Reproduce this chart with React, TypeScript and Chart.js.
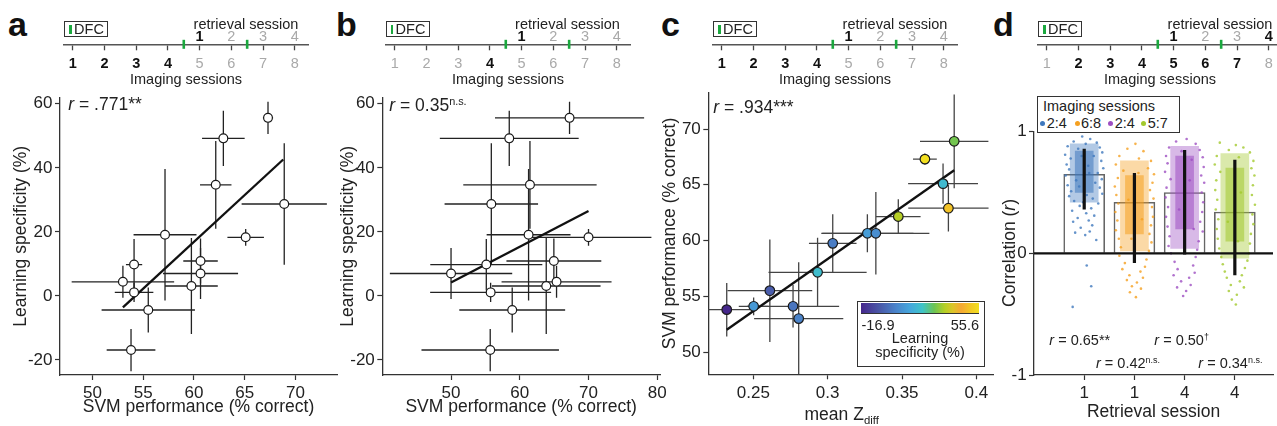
import React, { useEffect, useRef } from 'react';
import { Chart, registerables } from 'chart.js';

Chart.register(...registerables);

const FONT = '"Liberation Sans", Arial, Helvetica, sans-serif';
Chart.defaults.font.family = FONT;
Chart.defaults.color = '#222';

// ---------------- data shared by panels a, b, c (one value per animal) ----------------
const learningSpec = [55.6, 49.2, 34.7, 28.7, 18.3, 19.1, 10.9, 7.0, 3.1, 9.8, 1.1, 4.4, -4.4, -16.9];
const learningSpecErr = [5, 8.6, 13.7, 19, 2.6, 20.5, 7, 8, 15, 8, 3, 5, 7, 6.6];
const svmPerf = [67.3, 62.9, 62.15, 68.9, 65.1, 57.15, 60.65, 60.65, 59.75, 54.1, 54.1, 53.0, 55.5, 53.8];
const svmPerfErr = [0.5, 2.1, 1.55, 4.2, 1.8, 3.1, 1.7, 3.7, 2.6, 0.8, 1.9, 5.05, 4.6, 2.4];
const svmPerfB = [67.24, 58.47, 61.48, 55.86, 70.0, 61.28, 64.96, 50.0, 63.85, 55.13, 55.76, 65.35, 58.9, 55.7];
const svmPerfBErr = [10.85, 10.1, 9.7, 6.8, 9.15, 6.1, 6.9, 8.9, 7.9, 8.15, 8.8, 8, 7.7, 10];
const zDiff = [0.3654, 0.3812, 0.3475, 0.3851, 0.3776, 0.2932, 0.3267, 0.3324, 0.3034, 0.2502, 0.2767, 0.2805, 0.2611, 0.2321];
const zDiffErr = [0.008, 0.027, 0.015, 0.023, 0.0235, 0.033, 0.031, 0.036, 0.016, 0.010, 0.031, 0.030, 0.0285, 0.016];

// regression lines (end points)
const fitAX = [53.0, 68.8];
const fitAY = [-3.6, 42.6];
const fitBX = [50.0, 70.0];
const fitBY = [4.2, 26.5];
const fitCX = [0.2321, 0.3851];
const fitCY = [52.0, 66.3];

// tick values
const ticksLS = [-20, 0, 20, 40, 60];
const ticksSvmA = [50, 55, 60, 65, 70];
const ticksSvmB = [50, 60, 70, 80];
const ticksZ = [0.25, 0.3, 0.35, 0.4];
const ticksSvmC = [50, 55, 60, 65, 70];
const ticksCorr = [-1, 0, 1];

// colour bar range
const cbarMin = -16.9;
const cbarMax = 55.6;

// timelines
const imagingSessions = [1, 2, 3, 4, 5, 6, 7, 8];
const retrievalPos = [5, 6, 7, 8];
const retrievalLabels = ['1', '2', '3', '4'];
const dfcMarks = [4.5, 6.5];
const boldImgA = [1, 2, 3, 4];
const boldImgB = [4];
const boldImgC = [1, 2, 3, 4];
const boldImgD = [2, 3, 4, 5, 6, 7];
const boldRetA = [5];
const boldRetB = [5];
const boldRetC = [5];
const boldRetD = [5, 8];

// panel d
const retrievalCats = ['1', '1', '4', '4'];
const groupLabels = ['2:4', '6:8', '2:4', '5:7'];
const corrMean = [0.65, 0.42, 0.5, 0.34];
const ciLow = [0.36, -0.08, -0.01, -0.18];
const ciHigh = [0.86, 0.66, 0.85, 0.77];
// extent of the scattered cloud (outer) and of its densest part (inner)
const cloudLow = [0.42, 0.02, 0.04, -0.04];
const cloudHigh = [0.9, 0.76, 0.88, 0.82];
const denseLow = [0.5, 0.16, 0.2, 0.1];
const denseHigh = [0.84, 0.64, 0.8, 0.7];
const dots1 = [
  [-0.04, 0.96], [0.12, 0.94], [-0.21, 0.92], [0.25, 0.91], [0.03, 0.9], [-0.33, 0.88], [0.31, 0.87], [-0.12, 0.86],
  [0.36, 0.83], [-0.38, 0.81], [0.19, 0.8], [-0.27, 0.78], [0.34, 0.76], [-0.35, 0.73], [0.08, 0.72], [0.38, 0.7],
  [-0.3, 0.69], [0.27, 0.66], [-0.37, 0.64], [0.35, 0.61], [-0.16, 0.6], [0.22, 0.58], [-0.33, 0.56], [0.31, 0.54],
  [-0.26, 0.51], [0.36, 0.49], [-0.3, 0.47], [0.17, 0.45], [-0.2, 0.43], [0.28, 0.41], [-0.09, 0.39], [0.14, 0.37],
  [-0.24, 0.35], [0.04, 0.33], [0.2, 0.31], [-0.13, 0.29], [0.09, 0.27], [-0.22, 0.26], [0.16, 0.23], [-0.07, 0.21],
  [0.11, 0.18], [-0.18, 0.17], [0.02, 0.15], [0.24, 0.11], [0.05, -0.1], [0.14, -0.27], [-0.23, -0.44],
  [-0.05, 0.8], [0.1, 0.66], [-0.1, 0.55], [0.05, 0.48], [-0.02, 0.42],
];
const dots2 = [
  [0.02, 0.9], [-0.14, 0.86], [0.18, 0.84], [-0.3, 0.8], [0.09, 0.78], [0.33, 0.76], [-0.37, 0.73], [0.27, 0.7],
  [-0.22, 0.68], [0.39, 0.65], [-0.33, 0.62], [0.36, 0.58], [-0.39, 0.55], [0.31, 0.52], [-0.36, 0.48], [0.38, 0.45],
  [-0.32, 0.41], [0.35, 0.38], [-0.38, 0.34], [0.37, 0.3], [-0.34, 0.27], [0.33, 0.23], [-0.37, 0.19], [0.3, 0.16],
  [-0.31, 0.12], [0.34, 0.09], [-0.27, 0.05], [0.29, 0.02], [-0.3, -0.02], [0.24, -0.05], [-0.19, -0.08], [0.21, -0.11],
  [-0.24, -0.13], [0.12, -0.15], [-0.1, -0.18], [0.17, -0.2], [-0.15, -0.22], [0.05, -0.24], [-0.05, -0.27], [0.13, -0.29],
  [-0.09, -0.32], [0.03, -0.36], [0.08, 0.66], [-0.12, 0.44], [0.15, 0.28], [-0.06, 0.12],
];
const dots3 = [
  [0.04, 0.94], [-0.17, 0.92], [0.22, 0.9], [-0.31, 0.87], [0.3, 0.85], [-0.06, 0.84], [-0.37, 0.8], [0.36, 0.79],
  [0.14, 0.77], [-0.34, 0.74], [0.38, 0.71], [-0.39, 0.67], [0.33, 0.64], [-0.28, 0.61], [0.39, 0.58], [-0.36, 0.54],
  [0.34, 0.5], [-0.38, 0.46], [0.37, 0.42], [-0.33, 0.38], [0.35, 0.34], [-0.37, 0.3], [0.31, 0.26], [-0.34, 0.22],
  [0.36, 0.18], [-0.3, 0.14], [0.28, 0.1], [-0.32, 0.06], [0.25, 0.03], [-0.27, 0.0], [0.22, -0.03], [-0.2, -0.07],
  [0.17, -0.1], [-0.14, -0.13], [0.2, -0.16], [-0.22, -0.18], [0.09, -0.2], [-0.07, -0.23], [0.12, -0.26], [-0.15, -0.28],
  [0.03, -0.31], [-0.03, -0.35], [0.1, 0.6], [-0.11, 0.36], [0.18, 0.2],
];
const dots4 = [
  [-0.3, 0.91], [0.02, 0.89], [0.17, 0.87], [-0.12, 0.85], [0.3, 0.83], [-0.36, 0.8], [0.08, 0.79], [0.37, 0.76],
  [-0.4, 0.73], [0.33, 0.7], [-0.29, 0.67], [0.39, 0.64], [-0.37, 0.6], [0.36, 0.56], [-0.39, 0.52], [0.34, 0.48],
  [-0.35, 0.44], [0.4, 0.4], [-0.38, 0.36], [0.35, 0.32], [-0.33, 0.28], [0.37, 0.24], [-0.36, 0.2], [0.32, 0.16],
  [-0.34, 0.12], [0.3, 0.08], [-0.31, 0.04], [0.28, 0.0], [-0.27, -0.03], [0.25, -0.06], [-0.24, -0.09], [0.2, -0.12],
  [-0.2, -0.15], [0.14, -0.18], [-0.16, -0.2], [0.1, -0.23], [-0.08, -0.26], [0.18, -0.28], [-0.12, -0.31], [0.04, -0.34],
  [-0.06, -0.38], [0.02, -0.42], [0.12, 0.5], [-0.14, 0.26], [0.06, 0.1],
];
const groupDots = [dots1, dots2, dots3, dots4];

// ---------------- styles ----------------
const groupColors = ['#3f78bd', '#f5a020', '#9e4fc2', '#a3c92d'];
const cmapStops: [number, string][] = [
  [0.0, '#46278c'], [0.15, '#4a56a6'], [0.3, '#4a85cb'], [0.42, '#45a8dc'], [0.52, '#3fc4c8'],
  [0.62, '#6cc454'], [0.71, '#b5cf26'], [0.78, '#dcc52a'], [0.85, '#f6a834'], [0.91, '#f3c227'], [1.0, '#f2df20'],
];

function hexRgb(h: string) {
  const n = parseInt(h.slice(1), 16);
  return [(n >> 16) & 255, (n >> 8) & 255, n & 255];
}
function alpha(h: string, a: number) {
  const [r, g, b] = hexRgb(h);
  return `rgba(${r},${g},${b},${a})`;
}
function cmap(t: number) {
  const u = Math.max(0, Math.min(1, t));
  for (let i = 1; i < cmapStops.length; i++) {
    const [t1, c1] = cmapStops[i];
    const [t0, c0] = cmapStops[i - 1];
    if (u <= t1) {
      const f = (u - t0) / (t1 - t0);
      const a = hexRgb(c0), b = hexRgb(c1);
      return `rgb(${Math.round(a[0] + (b[0] - a[0]) * f)},${Math.round(a[1] + (b[1] - a[1]) * f)},${Math.round(a[2] + (b[2] - a[2]) * f)})`;
    }
  }
  return cmapStops[cmapStops.length - 1][1];
}

// ---------------- helpers ----------------
function errPlugin(items: any[], color: string, width: number, layer: 'before' | 'after') {
  const draw = (chart: any) => {
    const { ctx, chartArea, scales } = chart;
    const x = scales.x, y = scales.y;
    ctx.save();
    ctx.beginPath();
    ctx.rect(chartArea.left, chartArea.top, chartArea.right - chartArea.left, chartArea.bottom - chartArea.top);
    ctx.clip();
    ctx.strokeStyle = color;
    ctx.lineWidth = width;
    for (const it of items) {
      if (it.xLo !== undefined) {
        ctx.beginPath();
        ctx.moveTo(x.getPixelForValue(it.xLo), y.getPixelForValue(it.y));
        ctx.lineTo(x.getPixelForValue(it.xHi), y.getPixelForValue(it.y));
        ctx.stroke();
      }
      if (it.yLo !== undefined) {
        ctx.beginPath();
        ctx.moveTo(x.getPixelForValue(it.x), y.getPixelForValue(it.yLo));
        ctx.lineTo(x.getPixelForValue(it.x), y.getPixelForValue(it.yHi));
        ctx.stroke();
      }
    }
    ctx.restore();
  };
  return {
    id: 'errBars',
    beforeDatasetsDraw(chart: any) { if (layer === 'before') draw(chart); },
    afterDatasetsDraw(chart: any) { if (layer === 'after') draw(chart); },
  };
}

type Geo = {
  cl: number; ct: number; cw: number; ch: number;
  l: number; t: number; r: number; b: number;
  padLeft: number; xAxisH: number;
};

function canvasStyle(g: Geo): React.CSSProperties {
  return { position: 'absolute', left: g.cl, top: g.ct, width: g.cw, height: g.ch };
}

function layoutOf(g: Geo) {
  const yW = g.l - g.cl - g.padLeft;
  const padBottom = g.ct + g.ch - g.b - g.xAxisH;
  return { padding: { left: g.padLeft, top: g.t - g.ct, right: g.cl + g.cw - g.r, bottom: padBottom }, yW, xH: g.xAxisH };
}

function axis(o: {
  position: 'left' | 'bottom'; min: number; max: number; ticks: number[];
  fmt?: (v: number) => string; fixW?: number; fixH?: number; title?: string; titleSize?: number; tickPad: number;
}) {
  return {
    type: 'linear',
    position: o.position,
    min: o.min,
    max: o.max,
    offset: false,
    afterBuildTicks: (s: any) => { s.ticks = o.ticks.map((v) => ({ value: v })); },
    afterFit: (s: any) => {
      if (o.fixW != null) s.width = o.fixW;
      if (o.fixH != null) s.height = o.fixH;
    },
    ticks: {
      autoSkip: false, maxRotation: 0, minRotation: 0, padding: o.tickPad,
      font: { size: 17 }, color: '#222',
      callback: (v: any) => (o.fmt ? o.fmt(Number(v)) : String(v)),
    },
    grid: { display: true, offset: false, drawOnChartArea: false, drawTicks: true, tickLength: 5, tickColor: '#333', tickWidth: 1.2 },
    border: { display: true, color: '#333', width: 1.3 },
    title: o.title
      ? { display: true, text: o.title, font: { size: o.titleSize || 17.5 }, color: '#222', padding: 0 }
      : { display: false },
  };
}

function scatterConfig(p: {
  geo: Geo; xMin: number; xMax: number; yMin: number; yMax: number; xTicks: number[]; yTicks: number[];
  xTitle?: string; yTitle?: string; yTitleSize?: number; xs: number[]; ys: number[]; xErr: number[]; yErr: number[];
  fitX: number[]; fitY: number[]; fill: any; radius: number; errColor: string;
}) {
  const L = layoutOf(p.geo);
  const items = p.xs.map((x, i) => ({
    x, y: p.ys[i], xLo: x - p.xErr[i], xHi: x + p.xErr[i], yLo: p.ys[i] - p.yErr[i], yHi: p.ys[i] + p.yErr[i],
  }));
  return {
    type: 'scatter',
    data: {
      datasets: [
        {
          data: p.xs.map((x, i) => ({ x, y: p.ys[i] })),
          backgroundColor: p.fill, borderColor: '#1a1a1a', borderWidth: 1.2,
          pointRadius: p.radius, order: 1,
        },
        {
          data: p.fitX.map((x, i) => ({ x, y: p.fitY[i] })),
          showLine: true, borderColor: '#111', borderWidth: 2.3, pointRadius: 0, order: 2,
        },
      ],
    },
    options: {
      responsive: false, animation: false, events: [],
      layout: { padding: L.padding },
      plugins: { legend: { display: false }, tooltip: { enabled: false } },
      scales: {
        x: axis({ position: 'bottom', min: p.xMin, max: p.xMax, ticks: p.xTicks, fixH: L.xH, title: p.xTitle, tickPad: 3.5 }),
        y: axis({ position: 'left', min: p.yMin, max: p.yMax, ticks: p.yTicks, fixW: L.yW, title: p.yTitle, titleSize: p.yTitleSize, tickPad: 2.5 }),
      },
    },
    plugins: [errPlugin(items, p.errColor, 1.3, 'before')],
  };
}

const TL_W = 244; // timeline line length in px
function timelineGeo(lineLeft: number): Geo {
  return { cl: lineLeft - 10, ct: 0, cw: TL_W + 20, ch: 94, l: lineLeft, t: 43.3, r: lineLeft + TL_W, b: 44.3, padLeft: 10, xAxisH: 44.7 };
}
function timelineConfig(lineLeft: number, boldImg: number[], boldRet: number[]) {
  const g = timelineGeo(lineLeft);
  const L = layoutOf(g);
  const min = 0.72, max = 8.42;
  return {
    type: 'scatter',
    data: {
      datasets: [{
        data: dfcMarks.map((v) => ({ x: v, y: 0 })),
        pointStyle: 'line', rotation: 90, pointRadius: 4.5, borderColor: '#1aa83e', borderWidth: 2.6,
        clip: false, xAxisID: 'x', yAxisID: 'y',
      }],
    },
    options: {
      responsive: false, animation: false, events: [],
      layout: { padding: { left: L.padding.left, right: L.padding.right, top: g.t - g.ct - 20, bottom: L.padding.bottom } },
      plugins: { legend: { display: false }, tooltip: { enabled: false } },
      scales: {
        x: {
          type: 'linear', position: 'bottom', min, max, offset: false,
          afterBuildTicks: (s: any) => { s.ticks = imagingSessions.map((v) => ({ value: v })); },
          afterFit: (s: any) => { s.height = g.xAxisH; },
          ticks: {
            autoSkip: false, maxRotation: 0, padding: 5,
            color: (c: any) => (boldImg.includes(c.tick && c.tick.value) ? '#111' : '#a9a9a9'),
            font: (c: any) => ({ size: 14.5, weight: boldImg.includes(c.tick && c.tick.value) ? 'bold' : 'normal' }),
            callback: (v: any) => String(v),
          },
          grid: { display: true, drawOnChartArea: false, drawTicks: true, tickLength: 6, tickColor: '#444', tickWidth: 1.3 },
          border: { display: true, color: '#555', width: 1.5 },
          title: { display: true, text: 'Imaging sessions', font: { size: 14.5 }, color: '#222', padding: 0 },
        },
        x2: {
          type: 'linear', position: 'top', min, max, offset: false,
          afterBuildTicks: (s: any) => { s.ticks = retrievalPos.map((v) => ({ value: v })); },
          afterFit: (s: any) => { s.height = 20; },
          ticks: {
            autoSkip: false, maxRotation: 0, padding: -2,
            color: (c: any) => (boldRet.includes(c.tick && c.tick.value) ? '#111' : '#a9a9a9'),
            font: (c: any) => ({ size: 14.5, weight: boldRet.includes(c.tick && c.tick.value) ? 'bold' : 'normal' }),
            callback: (v: any) => retrievalLabels[retrievalPos.indexOf(Number(v))],
          },
          grid: { display: false, drawTicks: false },
          border: { display: false },
        },
        y: { type: 'linear', display: false, min: 0, max: 1 },
      },
    },
  };
}

// ---------------- geometry of the four scatter/bar panels ----------------
const geoA: Geo = { cl: 0, ct: 85, cw: 345, ch: 341, l: 60, t: 97.3, r: 337, b: 375, padLeft: 10.3, xAxisH: 42.2 };
const geoB: Geo = { cl: 330, ct: 85, cw: 342, ch: 341, l: 382.3, t: 97.3, r: 660, b: 375, padLeft: 337.8 - 330, xAxisH: 42.2 };
const geoC: Geo = { cl: 650, ct: 80, cw: 350, ch: 346, l: 708.3, t: 88, r: 993.3, b: 374.3, padLeft: 9.5, xAxisH: 40 };
const geoD: Geo = { cl: 990, ct: 100, cw: 287, ch: 326, l: 1034, t: 131.7, r: 1277, b: 375, padLeft: 0, xAxisH: 47.2 };

const timelineLefts = [64, 385.5, 713, 1038];
const letterLefts = [8, 336, 661, 993];
const letters = ['a', 'b', 'c', 'd'];

function dConfig() {
  const L = layoutOf(geoD);
  const items = corrMean.map((m, i) => ({ x: i, yLo: ciLow[i], yHi: ciHigh[i] }));
  return {
    type: 'scatter',
    data: {
      datasets: [
        {
          type: 'bar', data: corrMean.map((m, i) => ({ x: i, y: m })), backgroundColor: '#ffffff',
          borderColor: '#666', borderWidth: 1.6, barThickness: 41, grouped: false, order: 10,
        },
        {
          type: 'bar', data: cloudLow.map((lo, i) => ({ x: i, y: [lo, cloudHigh[i]] })),
          backgroundColor: groupColors.map((c) => alpha(c, 0.4)), borderWidth: 0, barThickness: 28,
          grouped: false, order: 9,
        },
        {
          type: 'bar', data: denseLow.map((lo, i) => ({ x: i, y: [lo, denseHigh[i]] })),
          backgroundColor: groupColors.map((c) => alpha(c, 0.55)), borderWidth: 0, barThickness: 18,
          grouped: false, order: 8,
        },
        ...groupDots.map((dots, gi) => ({
          type: 'scatter', data: dots.map(([dx, y]) => ({ x: gi + dx, y })), pointRadius: 1.3,
          backgroundColor: alpha(groupColors[gi], 0.8), borderWidth: 0, order: 5,
        })),
        {
          type: 'scatter', data: [{ x: -1, y: 0 }, { x: 3.76, y: 0 }], showLine: true,
          borderColor: '#111', borderWidth: 2.2, pointRadius: 0, order: 1,
        },
      ],
    },
    options: {
      responsive: false, animation: false, events: [],
      layout: { padding: L.padding },
      plugins: { legend: { display: false }, tooltip: { enabled: false } },
      scales: {
        x: axis({
          position: 'bottom', min: -1, max: 3.76, ticks: [0, 1, 2, 3], fixH: L.xH,
          fmt: (v) => retrievalCats[Math.round(v)], title: 'Retrieval session', tickPad: 3.5,
        }),
        y: axis({ position: 'left', min: -1, max: 1, ticks: ticksCorr, fixW: L.yW, tickPad: 2.3 }),
      },
    },
    plugins: [errPlugin(items, '#111', 3.2, 'after')],
  };
}

// ---------------- HTML text helpers ----------------
const txt = (left: number, top: number, size: number, extra?: React.CSSProperties): React.CSSProperties => ({
  position: 'absolute', left, top, fontSize: size, lineHeight: `${size}px`, whiteSpace: 'nowrap', color: '#222', ...extra,
});
const sup: React.CSSProperties = { fontSize: '0.62em', position: 'relative', top: '-0.55em' };

export default function App() {
  const rA = useRef<HTMLCanvasElement>(null);
  const rB = useRef<HTMLCanvasElement>(null);
  const rC = useRef<HTMLCanvasElement>(null);
  const rD = useRef<HTMLCanvasElement>(null);
  const rT0 = useRef<HTMLCanvasElement>(null);
  const rT1 = useRef<HTMLCanvasElement>(null);
  const rT2 = useRef<HTMLCanvasElement>(null);
  const rT3 = useRef<HTMLCanvasElement>(null);
  const tlRefs = [rT0, rT1, rT2, rT3];

  useEffect(() => {
    const charts: Chart[] = [];
    const pointColorsC = learningSpec.map((v) => cmap((v - cbarMin) / (cbarMax - cbarMin)));
    charts.push(new Chart(rA.current as any, scatterConfig({
      geo: geoA, xMin: 46.8, xMax: 74.1, yMin: -24.7, yMax: 61.9, xTicks: ticksSvmA, yTicks: ticksLS,
      xTitle: 'SVM performance (% correct)', yTitle: 'Learning specificity (%)', yTitleSize: 17.5,
      xs: svmPerf, ys: learningSpec, xErr: svmPerfErr, yErr: learningSpecErr, fitX: fitAX, fitY: fitAY,
      fill: '#ffffff', radius: 4.4, errColor: '#222',
    }) as any));
    charts.push(new Chart(rB.current as any, scatterConfig({
      geo: geoB, xMin: 40.0, xMax: 80.4, yMin: -24.7, yMax: 61.9, xTicks: ticksSvmB, yTicks: ticksLS,
      xTitle: 'SVM performance (% correct)', yTitle: 'Learning specificity (%)', yTitleSize: 17.5,
      xs: svmPerfB, ys: learningSpec, xErr: svmPerfBErr, yErr: learningSpecErr, fitX: fitBX, fitY: fitBY,
      fill: '#ffffff', radius: 4.4, errColor: '#222',
    }) as any));
    charts.push(new Chart(rC.current as any, scatterConfig({
      geo: geoC, xMin: 0.2197, xMax: 0.4114, yMin: 48.0, yMax: 73.26, xTicks: ticksZ, yTicks: ticksSvmC,
      yTitle: 'SVM performance (% correct)', yTitleSize: 17.5,
      xs: zDiff, ys: svmPerf, xErr: zDiffErr, yErr: svmPerfErr, fitX: fitCX, fitY: fitCY,
      fill: pointColorsC, radius: 4.8, errColor: '#444',
    }) as any));
    charts.push(new Chart(rD.current as any, dConfig() as any));
    const bolds = [[boldImgA, boldRetA], [boldImgB, boldRetB], [boldImgC, boldRetC], [boldImgD, boldRetD]];
    tlRefs.forEach((r, i) => {
      charts.push(new Chart(r.current as any, timelineConfig(timelineLefts[i], bolds[i][0], bolds[i][1]) as any));
    });
    return () => charts.forEach((c) => c.destroy());
  }, []);

  const gradient = `linear-gradient(to right, ${cmapStops.map(([t, c]) => `${c} ${t * 100}%`).join(', ')})`;

  return (
    <div style={{ position: 'absolute', left: 0, top: 0, width: 1277, height: 426, overflow: 'hidden', background: '#fff', fontFamily: FONT }}>
      {/* panel letters */}
      {letters.map((l, i) => (
        <div key={l} style={txt(letterLefts[i], 7.2, 34, { fontWeight: 'bold', color: '#111' })}>{l}</div>
      ))}

      {/* timelines */}
      {timelineLefts.map((ll, i) => {
        const g = timelineGeo(ll);
        return <canvas key={'tl' + i} ref={tlRefs[i]} width={g.cw} height={g.ch} style={canvasStyle(g)} />;
      })}
      {timelineLefts.map((ll, i) => (
        <React.Fragment key={'tlt' + i}>
          <div style={txt(ll + 182 - 60, 16.6, 14.5, { width: 120, textAlign: 'center' })}>retrieval session</div>
          <div style={{
            position: 'absolute', left: ll, top: 21, width: 44, height: 16, boxSizing: 'border-box',
            border: '1.3px solid #333', display: 'flex', alignItems: 'center', background: '#fff',
          }}>
            <span style={{ display: 'inline-block', width: 2.6, height: 9, background: '#1aa83e', marginLeft: 4, marginRight: 2.5 }} />
            <span style={{ fontSize: 14.5, lineHeight: '14px', color: '#222' }}>DFC</span>
          </div>
        </React.Fragment>
      ))}

      {/* charts */}
      <canvas ref={rA} width={geoA.cw} height={geoA.ch} style={canvasStyle(geoA)} />
      <canvas ref={rB} width={geoB.cw} height={geoB.ch} style={canvasStyle(geoB)} />
      <canvas ref={rC} width={geoC.cw} height={geoC.ch} style={canvasStyle(geoC)} />
      <canvas ref={rD} width={geoD.cw} height={geoD.ch} style={canvasStyle(geoD)} />

      {/* correlation annotations */}
      <div style={txt(68.3, 95.9, 17.5)}><i>r</i> = .771**</div>
      <div style={txt(389.3, 97.2, 17.5)}><i>r</i> = 0.35<span style={sup}>n.s.</span></div>
      <div style={txt(713.3, 99.2, 17.5)}><i>r</i> = .934***</div>

      {/* panel c x title */}
      <div style={txt(741.7, 406, 17.5, { width: 200, textAlign: 'center' })}>
        mean Z<span style={{ fontSize: '0.65em', position: 'relative', top: '0.35em' }}>diff</span>
      </div>

      {/* colour bar legend (panel c) */}
      <div style={{ position: 'absolute', left: 856.7, top: 300.7, width: 128, height: 66, boxSizing: 'border-box', border: '1.3px solid #333', background: '#fff' }} />
      <div style={{ position: 'absolute', left: 861, top: 303.3, width: 118, height: 9.4, background: gradient, borderBottom: '1px solid #333' }} />
      <div style={txt(861.5, 317.7, 14.5)}>{cbarMin.toFixed(1)}</div>
      <div style={txt(919, 317.7, 14.5, { width: 60, textAlign: 'right' })}>{cbarMax.toFixed(1)}</div>
      <div style={txt(860, 331, 14.5, { width: 120, textAlign: 'center' })}>Learning</div>
      <div style={txt(860, 345.4, 14.5, { width: 120, textAlign: 'center' })}>specificity (%)</div>

      {/* panel d y title */}
      <div style={{
        position: 'absolute', left: 1009 - 100, top: 253 - 10, width: 200, height: 20, lineHeight: '20px',
        fontSize: 17.5, textAlign: 'center', transform: 'rotate(-90deg)', color: '#222', whiteSpace: 'nowrap',
      }}>
        Correlation (<i>r</i>)
      </div>

      {/* panel d legend */}
      <div style={{ position: 'absolute', left: 1037, top: 96, width: 143, height: 36.7, boxSizing: 'border-box', border: '1.3px solid #333', background: '#fff' }} />
      <div style={txt(1043, 98.7, 14.5)}>Imaging sessions</div>
      {groupLabels.map((g, i) => {
        const dotX = [1042.7, 1077, 1110.7, 1143.7][i];
        return (
          <React.Fragment key={'lg' + i}>
            <span style={{ position: 'absolute', left: dotX - 2.5, top: 121, width: 5, height: 5, borderRadius: 3, background: groupColors[i] }} />
            <div style={txt(dotX + 4, 115.7, 14.5)}>{g}</div>
          </React.Fragment>
        );
      })}

      {/* panel d annotations */}
      <div style={txt(1049.3, 332.7, 14.5)}><i>r</i> = 0.65**</div>
      <div style={txt(1154.3, 332.7, 14.5)}><i>r</i> = 0.50<span style={sup}>†</span></div>
      <div style={txt(1096, 355.7, 14.5)}><i>r</i> = 0.42<span style={sup}>n.s.</span></div>
      <div style={txt(1198.3, 355.7, 14.5)}><i>r</i> = 0.34<span style={sup}>n.s.</span></div>
    </div>
  );
}
